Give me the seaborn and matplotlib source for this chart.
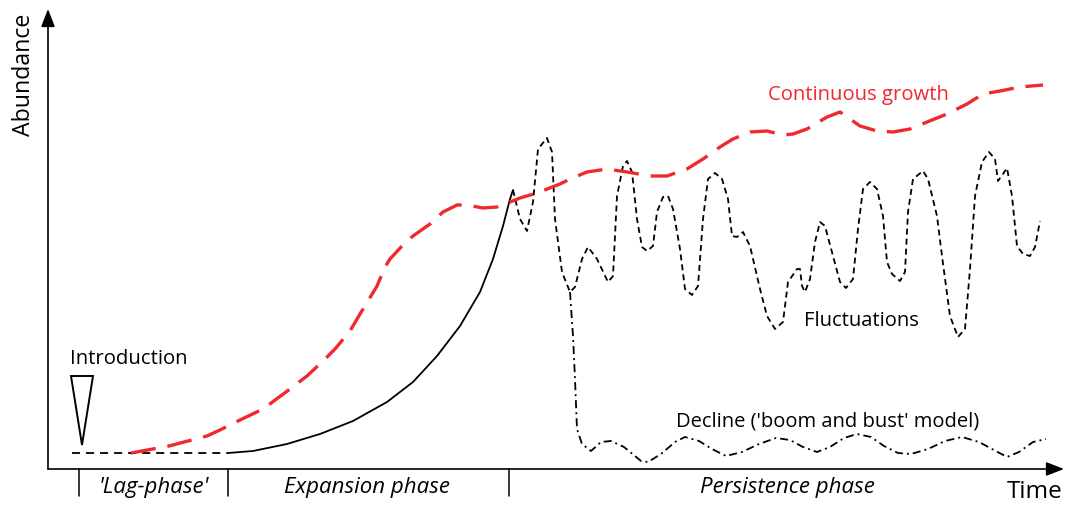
import numpy as np
import pandas as pd
import matplotlib
matplotlib.use("Agg")
import matplotlib.pyplot as plt
import seaborn as sns

# ---------------- data (time, abundance) ----------------
lag_time = [72, 228]
lag_abund = [16, 16]

expansion_time = [228, 253, 287, 320, 353, 387, 413, 437, 460, 480, 493, 503, 510, 513]
expansion_abund = [16, 18, 25, 35, 48, 67, 87, 113, 143, 177, 210, 243, 270, 279]

growth_time = [131, 169, 207, 220, 240, 263, 290, 307, 323, 335, 350, 360, 368, 377,
               385, 390, 402, 413, 430, 443, 457, 467, 483, 497, 510, 520, 537, 560,
               570, 587, 607, 627, 650, 667, 687, 703, 720, 733, 750, 767, 783, 793,
               807, 827, 840, 850, 860, 877, 893, 910, 927, 947, 967, 983, 1000, 1020,
               1043]
growth_abund = [16, 23, 33, 39, 49, 60, 80, 93, 108, 120, 138, 155, 168, 183,
                202, 210, 223, 233, 245, 257, 264, 264, 261, 262, 267, 271, 276, 285,
                290, 297, 300, 297, 293, 293, 300, 310, 322, 330, 337, 338, 334, 335,
                340, 352, 357, 350, 343, 338, 337, 340, 347, 355, 365, 375, 378, 382,
                384]

fluct_time = [513, 520, 527, 533, 538, 547, 552, 555, 562, 570, 575, 582, 588, 597,
              608, 613, 617, 623, 627, 632, 637, 642, 647, 653, 657, 663, 668, 673,
              680, 685, 692, 698, 703, 708, 715, 722, 728, 732, 737, 743, 750, 760,
              767, 775, 783, 788, 797, 800, 802, 805, 810, 815, 820, 825, 833, 840,
              846, 853, 858, 863, 870, 877, 883, 887, 892, 900, 905, 908, 913, 923,
              928, 937, 942, 950, 958, 965, 970, 975, 982, 989, 995, 998, 1003, 1007,
              1012, 1017, 1023, 1030, 1035, 1040]
fluct_abund = [279, 250, 238, 267, 320, 331, 317, 250, 197, 177, 182, 210, 222, 210,
               187, 193, 273, 303, 308, 297, 250, 222, 218, 223, 257, 272, 273, 260,
               220, 180, 174, 183, 250, 290, 296, 290, 270, 233, 232, 237, 223, 180,
               153, 140, 147, 187, 200, 200, 183, 177, 190, 227, 247, 243, 213, 187,
               181, 190, 240, 280, 287, 280, 253, 207, 195, 188, 197, 257, 290, 298,
               290, 253, 213, 153, 132, 140, 200, 273, 307, 317, 310, 288, 295, 301,
               273, 223, 215, 213, 222, 248]

decline_time = [570, 573, 575, 577, 582, 591, 601, 611, 624, 641, 648, 661, 675, 685,
                699, 712, 726, 742, 759, 776, 790, 803, 817, 830, 844, 857, 871, 884,
                898, 911, 928, 945, 962, 979, 992, 1007, 1019, 1033, 1046]
decline_abund = [177, 133, 90, 40, 25, 18, 27, 28, 22, 8, 7, 15, 27, 32,
                 28, 20, 13, 17, 25, 31, 29, 22, 17, 22, 31, 35, 32, 23,
                 16, 15, 20, 28, 32, 27, 20, 12, 17, 27, 30]

intro_time = 82
phase_edges = [79, 228, 509]
phase_labels = ["'Lag-phase'", "Expansion phase", "Persistence phase"]
phase_centers = [154, 367, 787]

# ---------------- styling ----------------
sns.set_theme(style="white")
plt.rcParams["font.family"] = ["Open Sans", "DejaVu Sans"]
plt.rcParams["lines.scale_dashes"] = False
plt.rcParams["text.color"] = "black"

RED = "#ee2a2e"
fig = plt.figure(figsize=(10.69, 5.06), dpi=100)
ax = fig.add_axes([0, 0, 1, 1])
ax.set_xlim(0, 1069)
ax.set_ylim(-36, 470)
ax.axis("off")

def draw(t, a, **kw):
    df = pd.DataFrame({"Time": t, "Abundance": a})
    sns.lineplot(data=df, x="Time", y="Abundance", sort=False, estimator=None,
                 ax=ax, legend=False, solid_joinstyle="round",
                 dash_joinstyle="round", **kw)

BLW = 1.3
draw(lag_time, lag_abund, color="black", linewidth=BLW, linestyle=(0, (5.8, 4.3)))
draw(expansion_time, expansion_abund, color="black", linewidth=BLW, linestyle="-")
draw(decline_time, decline_abund, color="black", linewidth=BLW,
     linestyle=(0, (5.8, 2.9, 1.4, 2.9)))
draw(fluct_time, fluct_abund, color="black", linewidth=BLW, linestyle=(0, (4.3, 2.9)))
draw(growth_time, growth_abund, color=RED, linewidth=2.4, linestyle=(0, (18, 8.6)))

# axes arrows
arrow = dict(arrowstyle="-|>,head_length=0.9,head_width=0.35", color="black",
             linewidth=1.2, shrinkA=0, shrinkB=0)
ax.annotate("", xy=(48, 460), xytext=(48, 0), arrowprops=arrow)
ax.annotate("", xy=(1064, 0), xytext=(48, 0), arrowprops=arrow)

# phase separators and labels
for e in phase_edges:
    ax.plot([e, e], [0, -27], color="black", linewidth=1.1)
for lab, c in zip(phase_labels, phase_centers):
    ax.text(c, -18, lab, ha="center", va="center", fontsize=16, style="italic")

# introduction marker
tri_x = [intro_time - 11, intro_time + 11, intro_time, intro_time - 11]
tri_y = [93, 93, 24, 93]
ax.fill(tri_x, tri_y, facecolor="white", edgecolor="black", linewidth=1.4, zorder=5)
ax.text(70, 111, "Introduction", ha="left", va="center", fontsize=14.6)

ax.text(858, 375, "Continuous growth", ha="center", va="center", fontsize=14.6, color=RED)
ax.text(861, 149, "Fluctuations", ha="center", va="center", fontsize=14.5)
ax.text(828, 48, "Decline ('boom and bust' model)", ha="center", va="center", fontsize=14.5)

ax.text(1035, -22, "Time", ha="center", va="center", fontsize=17.5)
ax.text(24, 395, "Abundance", ha="center", va="center", fontsize=16.7, rotation=90)

fig.savefig("out.png", dpi=100)
